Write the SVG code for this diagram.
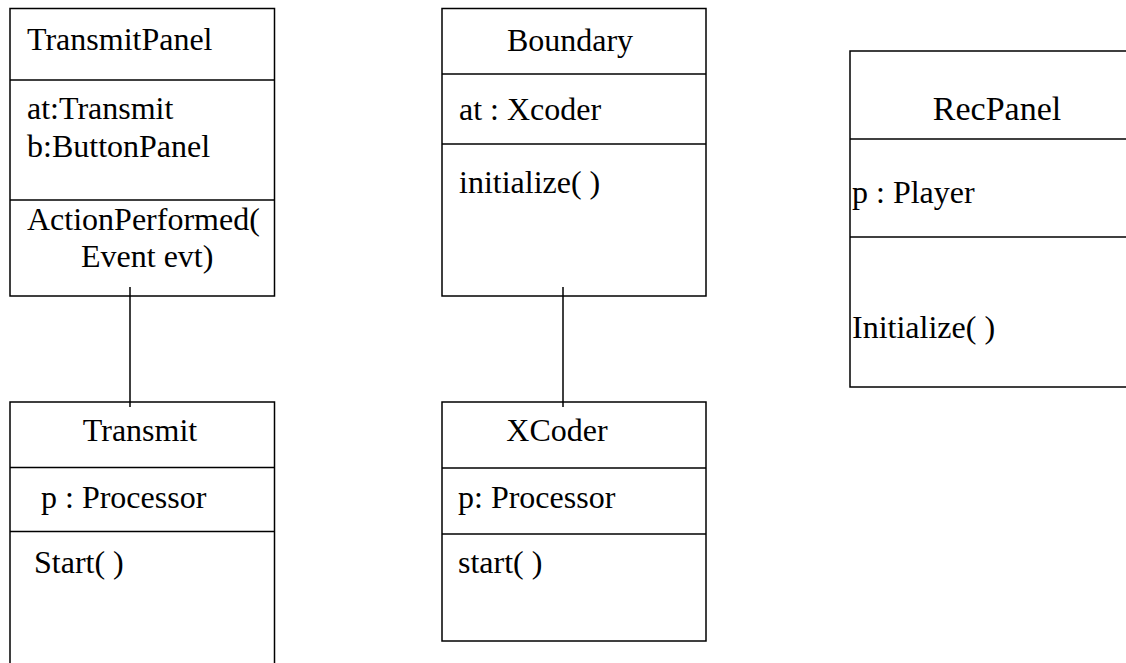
<svg xmlns="http://www.w3.org/2000/svg" width="1126" height="663" viewBox="0 0 1126 663">
<style>
.box{fill:#fff;stroke:#000;stroke-width:1.5}
.div{stroke:#000;stroke-width:1.5}
.conn{stroke:#000;stroke-width:1.5;fill:none}
text{font-family:'Liberation Serif','DejaVu Serif',serif;font-size:32px;fill:#000}
.c{text-anchor:middle}
</style>
<rect width="1126" height="663" fill="#fff"/>
<g id="TransmitPanel">
<rect class="box" x="10" y="8.5" width="264.5" height="287.5"/>
<line class="div" x1="10" y1="80" x2="274.5" y2="80"/>
<line class="div" x1="10" y1="200" x2="274.5" y2="200"/>
<text x="27" y="50">TransmitPanel</text>
<text x="27" y="119">at:Transmit</text>
<text x="27" y="157">b:ButtonPanel</text>
<text x="27" y="230">ActionPerformed(</text>
<text x="81" y="267">Event evt)</text>
</g>
<g id="Boundary">
<rect class="box" x="442" y="8.5" width="264" height="287.5"/>
<line class="div" x1="442" y1="74" x2="706" y2="74"/>
<line class="div" x1="442" y1="144" x2="706" y2="144"/>
<text class="c" x="570" y="51">Boundary</text>
<text x="459" y="120">at : Xcoder</text>
<text x="459" y="193">initialize( )</text>
</g>
<g id="RecPanel">
<rect class="box" x="850" y="51" width="290" height="336"/>
<line class="div" x1="850" y1="139" x2="1140" y2="139"/>
<line class="div" x1="850" y1="237" x2="1140" y2="237"/>
<text class="c" x="997" y="120" style="font-size:34px">RecPanel</text>
<text x="852" y="203">p : Player</text>
<text x="852" y="338">Initialize( )</text>
</g>
<g id="Transmit">
<rect class="box" x="10" y="402" width="264.5" height="280"/>
<line class="div" x1="10" y1="467.5" x2="274.5" y2="467.5"/>
<line class="div" x1="10" y1="531.5" x2="274.5" y2="531.5"/>
<text class="c" x="140" y="441">Transmit</text>
<text x="41" y="508">p : Processor</text>
<text x="34" y="573">Start( )</text>
</g>
<g id="XCoder">
<rect class="box" x="442" y="402" width="264" height="239"/>
<line class="div" x1="442" y1="468" x2="706" y2="468"/>
<line class="div" x1="442" y1="534" x2="706" y2="534"/>
<text class="c" x="557" y="441">XCoder</text>
<text x="458" y="508">p: Processor</text>
<text x="458" y="573">start( )</text>
</g>
<g id="connectors">
<line class="conn" x1="130" y1="287" x2="130" y2="407"/>
<line class="conn" x1="563" y1="287" x2="563" y2="407"/>
</g>
</svg>
